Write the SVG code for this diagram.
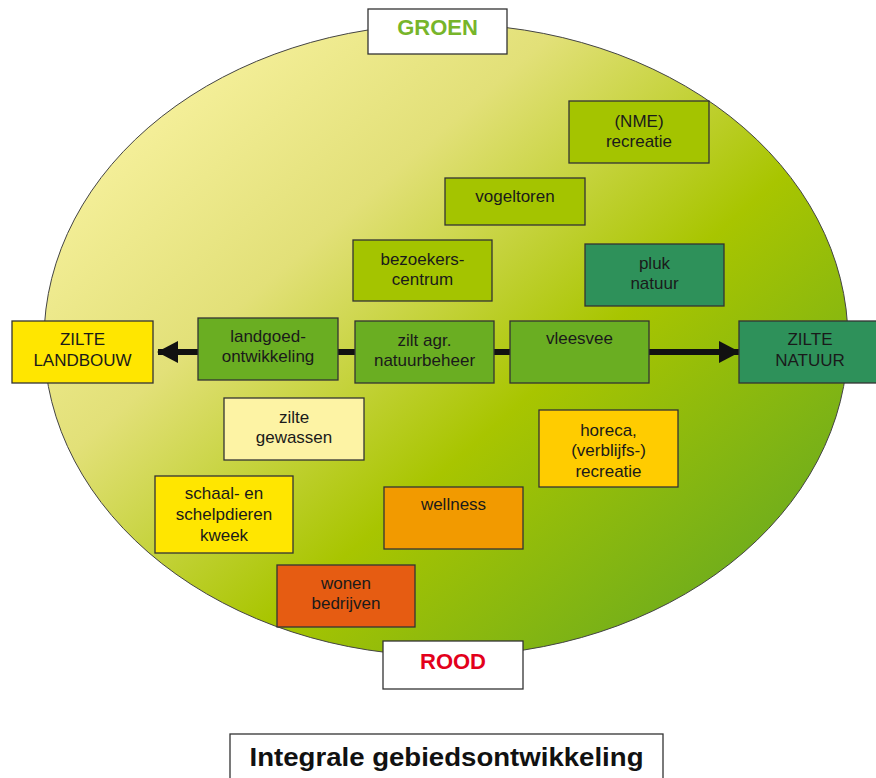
<svg xmlns="http://www.w3.org/2000/svg" width="876" height="778" viewBox="0 0 876 778">
<defs>
<linearGradient id="bg" x1="0.08" y1="0.12" x2="0.92" y2="0.88">
<stop offset="0" stop-color="#f8f2a0"/>
<stop offset="0.3" stop-color="#e2e078"/>
<stop offset="0.62" stop-color="#a8c500"/>
<stop offset="1" stop-color="#6aab1f"/>
</linearGradient>
<marker id="ah" markerUnits="userSpaceOnUse" markerWidth="22" markerHeight="24" refX="20" refY="11" orient="auto-start-reverse">
<polygon points="0,0 21,11 0,22" fill="#111"/>
</marker>
<style>
.b{stroke:#333;stroke-width:1.3}
.t{font-family:"Liberation Sans",Arial,sans-serif;font-size:17px;fill:#1a1a1a;text-anchor:middle}
.h{font-family:"Liberation Sans",Arial,sans-serif;font-weight:bold;text-anchor:middle}
.yg{fill:#a4c400}.dg{fill:#2e915a}.mg{fill:#6aae22}.ye{fill:#ffe600}.py{fill:#fdf3a4}.or{fill:#ffcc00}.ow{fill:#f29a00}.rd{fill:#e65c12}.wh{fill:#fff}
</style>
</defs>
<ellipse cx="446" cy="340" rx="402" ry="316" fill="url(#bg)" stroke="#444" stroke-width="1"/>
<g id="connectors">
<path d="M 158 352 L 739 352" stroke="#111" stroke-width="6" fill="none" marker-start="url(#ah)" marker-end="url(#ah)"/>
</g>
<g id="groen"><rect class="b wh" x="368" y="9" width="139" height="45"/><text class="h" x="437.5" y="35" font-size="22" fill="#77b52a">GROEN</text></g>
<g id="nme"><rect class="b yg" x="569" y="101" width="140" height="62"/><text class="t" x="639" y="127">(NME)</text><text class="t" x="639" y="147">recreatie</text></g>
<g id="vogeltoren"><rect class="b yg" x="445" y="178" width="140" height="47"/><text class="t" x="515" y="202">vogeltoren</text></g>
<g id="bezoekers"><rect class="b yg" x="353" y="240" width="139" height="61"/><text class="t" x="422.5" y="265">bezoekers-</text><text class="t" x="422.5" y="285">centrum</text></g>
<g id="pluk"><rect class="b dg" x="585" y="244" width="139" height="62"/><text class="t" x="654.5" y="269">pluk</text><text class="t" x="654.5" y="289">natuur</text></g>
<g id="zilte-landbouw"><rect class="b ye" x="12" y="321" width="141" height="62"/><text class="t" x="82.5" y="345">ZILTE</text><text class="t" x="82.5" y="366">LANDBOUW</text></g>
<g id="landgoed"><rect class="b mg" x="198" y="318" width="140" height="62"/><text class="t" x="268" y="342">landgoed-</text><text class="t" x="268" y="362">ontwikkeling</text></g>
<g id="zilt-agr"><rect class="b mg" x="355" y="321" width="139" height="62"/><text class="t" x="424.5" y="346">zilt agr.</text><text class="t" x="424.5" y="366">natuurbeheer</text></g>
<g id="vleesvee"><rect class="b mg" x="510" y="321" width="139" height="62"/><text class="t" x="579.5" y="344">vleesvee</text></g>
<g id="zilte-natuur"><rect class="b dg" x="739" y="321" width="140" height="62"/><text class="t" x="810" y="345">ZILTE</text><text class="t" x="810" y="366">NATUUR</text></g>
<g id="zilte-gewassen"><rect class="b py" x="224" y="398" width="140" height="62"/><text class="t" x="294" y="423">zilte</text><text class="t" x="294" y="443">gewassen</text></g>
<g id="horeca"><rect class="b or" x="539" y="410" width="139" height="77"/><text class="t" x="608.5" y="436">horeca,</text><text class="t" x="608.5" y="456">(verblijfs-)</text><text class="t" x="608.5" y="477">recreatie</text></g>
<g id="schaal"><rect class="b ye" x="155" y="476" width="138" height="77"/><text class="t" x="224" y="499">schaal- en</text><text class="t" x="224" y="520">schelpdieren</text><text class="t" x="224" y="541">kweek</text></g>
<g id="wellness"><rect class="b ow" x="384" y="487" width="139" height="62"/><text class="t" x="453.5" y="510">wellness</text></g>
<g id="wonen"><rect class="b rd" x="277" y="565" width="138" height="62"/><text class="t" x="346" y="589">wonen</text><text class="t" x="346" y="609">bedrijven</text></g>
<g id="rood"><rect class="b wh" x="383" y="641" width="140" height="48"/><text class="h" x="453" y="669" font-size="22" fill="#e3001b">ROOD</text></g>
<g id="titel"><rect class="b wh" x="230" y="734" width="433" height="60"/><text class="h" x="446.5" y="766" font-size="26" fill="#111" textLength="394" lengthAdjust="spacingAndGlyphs">Integrale gebiedsontwikkeling</text></g>
</svg>
